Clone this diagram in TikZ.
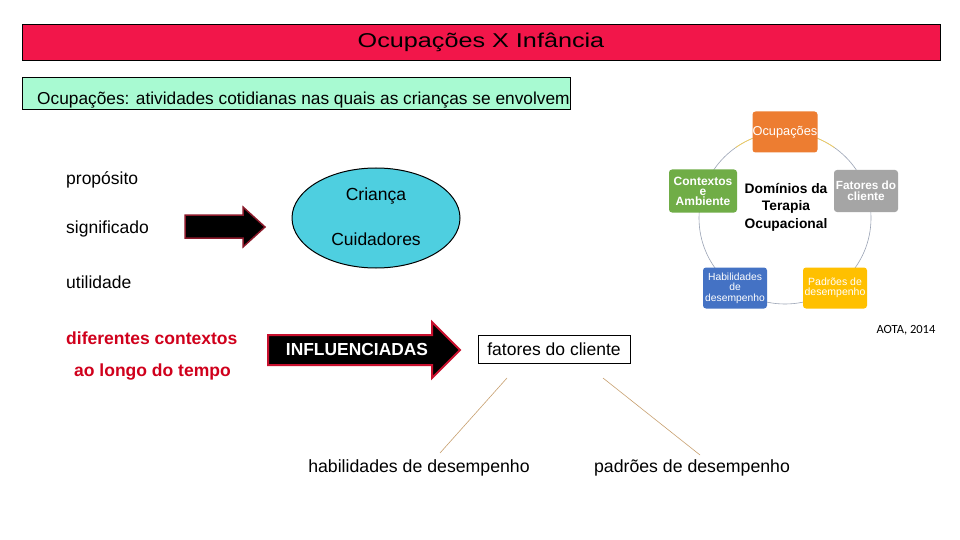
\documentclass[tikz,border=0pt]{standalone}
\usepackage{fontspec}
\usepackage{graphicx}
\setmainfont{Liberation Sans}
\newfontfamily\calibrifont{Carlito}
\usetikzlibrary{shapes.geometric,calc}
\definecolor{titlered}{HTML}{F2164A}
\definecolor{mint}{HTML}{A8FAD2}
\definecolor{cyanfill}{HTML}{4ECFE0}
\definecolor{darkred}{HTML}{8B1A2B}
\definecolor{crim}{HTML}{C8102E}
\definecolor{occ}{HTML}{ED7D31}
\definecolor{fat}{HTML}{A5A5A5}
\definecolor{pad}{HTML}{FFC000}
\definecolor{hab}{HTML}{4472C4}
\definecolor{ctx}{HTML}{70AD47}
\definecolor{tan}{HTML}{C8A070}
\definecolor{ringgray}{HTML}{9AA3B5}
\definecolor{redtxt}{HTML}{D0001C}
\tikzset{
  fs/.style={font=\fontsize{#1}{#1}\selectfont},
  lefttext/.style={anchor=west, inner sep=0pt, font=\fontsize{17.5}{20}\selectfont},
  redtext/.style={anchor=west, inner sep=0pt, text=redtxt, font=\bfseries\fontsize{17.5}{20}\selectfont},
  cyclebox/.style={rounded corners=3pt, minimum width=#1, text=white, align=center, inner sep=0pt},
  ring/.style={draw=ringgray, line width=0.6pt},
  tanline/.style={draw=tan, line width=0.6pt},
  bigarrow/.style={fill=black, line width=2pt, line join=miter}
}
\begin{document}
\begin{tikzpicture}[x=1pt,y=-1pt]
\useasboundingbox[fill=white] (0,0) rectangle (960,540);

% title
\node[draw=black, fill=titlered, minimum width=918pt, minimum height=36pt, inner sep=0pt,
      fs=20] (title) at (481,42) {\scalebox{1.26}[1]{Ocupações X Infância}};
% subtitle box
\node[draw=black, fill=mint, minimum width=548pt, minimum height=32pt, inner sep=0pt,
      anchor=north west] (sub) at (22,77) {};
\node[anchor=base west, inner sep=0pt, fs=17.3] (subtxt) at (37,105) {Ocupações: atividades cotidianas nas quais as crianças se envolvem};

% left list
\node[lefttext] (prop) at (66,180) {propósito};
\node[lefttext] (sig) at (66,229) {significado};
\node[lefttext] (util) at (66,282) {utilidade};
\node[redtext] (dif) at (66,338) {diferentes contextos};
\node[redtext] (alo) at (74,372) {ao longo do tempo};

% black arrow
\draw[bigarrow, draw=darkred, line width=1.5pt] (185,215) -- (243,215) -- (243,207) -- (265,227) -- (243,247) -- (243,238) -- (185,238) -- cycle;

% ellipse
\node[draw=black, line width=1pt, fill=cyanfill, ellipse, minimum width=168pt, minimum height=100pt, inner sep=0pt] (ell) at (376,218) {};
\node[fs=17.5, inner sep=0pt] (crianca) at (376,196) {Criança};
\node[fs=17.5, inner sep=0pt] (cuid) at (376,239) {Cuidadores};

% INFLUENCIADAS arrow
\draw[bigarrow, draw=crim] (268,335) -- (432,335) -- (432,322) -- (460,350) -- (432,378) -- (432,365) -- (268,365) -- cycle;
\node[text=white, font=\bfseries\fontsize{17.4}{20}\selectfont, inner sep=0pt] (infl) at (357,350) {INFLUENCIADAS};

% fatores do cliente
\node[draw=black, line width=0.8pt, minimum width=152pt, minimum height=28pt, inner sep=0pt, fs=17.5] (fc) at (554,349) {fatores do cliente};
\coordinate (fcL) at (507,378);
\coordinate (fcR) at (603,378);
\node[fs=17.7, inner sep=0pt] (habd) at (419,468) {habilidades de desempenho};
\node[fs=17.7, inner sep=0pt] (padd) at (692,468) {padrões de desempenho};
\coordinate (habT) at (440,453);
\coordinate (padT) at (700,455);
\draw[tanline] (fcL) -- (habT);
\draw[tanline] (fcR) -- (padT);

% cycle
\coordinate (cc) at (785,218);
\draw[ring] (cc) circle (86pt);
\draw[draw=pad!70!white, line width=0.6pt] ($(cc)+(55:86pt)$) arc (55:125:86pt);
\node[cyclebox=65pt, fill=occ, minimum height=41pt, font=\fontsize{12.8}{13}\selectfont] (occn) at (785,132) {Ocupações};
\node[cyclebox=64pt, fill=fat, minimum height=42pt, font=\bfseries\fontsize{11.8}{10.5}\selectfont] (fatn) at (866,191) {Fatores do\\ cliente};
\node[cyclebox=64pt, fill=pad, minimum height=41pt, font=\fontsize{10.5}{10.5}\selectfont] (padn) at (835,288) {Padrões de\\desempenho};
\node[cyclebox=64pt, fill=hab, minimum height=41pt, font=\fontsize{10.3}{10.5}\selectfont] (habn) at (735,288) {Habilidades\\de\\desempenho};
\node[cyclebox=68pt, fill=ctx, minimum height=43pt, font=\bfseries\fontsize{12}{10}\selectfont] (ctxn) at (703,191) {Contextos\\e\\Ambiente};
\node[align=center, font=\bfseries\fontsize{13.8}{17.5}\selectfont, inner sep=0pt] (dom) at (786,207) {Domínios da\\Terapia\\Ocupacional};
\node[font=\calibrifont\fontsize{12.5}{13}\selectfont, inner sep=0pt] (aota) at (906,330) {AOTA, 2014};
\end{tikzpicture}
\end{document}
